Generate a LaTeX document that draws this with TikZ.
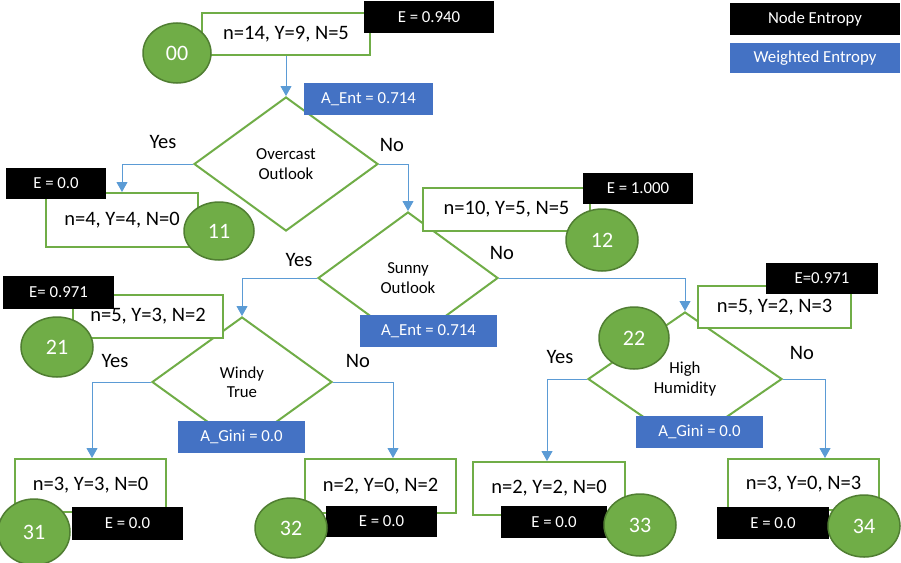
\documentclass[tikz,border=0pt]{standalone}
\usepackage{fontspec}
\setmainfont{Carlito}
\usetikzlibrary{shapes.geometric,arrows.meta}
\definecolor{leafgreen}{HTML}{70AD47}
\definecolor{leafedge}{HTML}{507E32}
\definecolor{wblue}{HTML}{4472C4}
\definecolor{linkblue}{HTML}{5B9BD5}
\newcommand{\bigtxt}{\fontsize{20.5}{24}\selectfont}
\newcommand{\midtxt}{\fontsize{16.8}{19.5}\selectfont}
\newcommand{\idtxt}{\fontsize{22}{26}\selectfont}
\tikzset{
  countbox/.style={draw=leafgreen, line width=2pt, fill=white, inner sep=0pt,
    minimum width=#1, font=\bigtxt},
  entbox/.style={fill=black, text=white, inner sep=0pt, font=\midtxt},
  wbox/.style={fill=wblue, text=white, inner sep=0pt, font=\midtxt},
  leaf/.style={ellipse, fill=leafgreen, draw=leafedge, line width=1.5pt,
    text=white, inner sep=0pt, font=\idtxt},
  decision/.style={diamond, draw=leafgreen, line width=2pt, fill=white,
    inner sep=0pt, font=\midtxt, align=center},
  answer/.style={font=\bigtxt, inner sep=0pt},
  link/.style={draw=linkblue, line width=1pt,
    -{Triangle[width=11pt,length=10pt]}}
}
\begin{document}
\begin{tikzpicture}[x=1pt, y=-1pt]
\useasboundingbox (0,0) rectangle (901,562);

% decision diamonds
\node[decision, minimum width=184pt, minimum height=134pt] (d1) at (286,164) {Overcast\\Outlook};
\node[decision, minimum width=180pt, minimum height=132pt] (d2) at (408,278) {Sunny\\Outlook};
\node[decision, minimum width=180pt, minimum height=130pt] (d3) at (242,382) {Windy\\True};
\node[decision, minimum width=194pt, minimum height=134pt] (d4) at (685,379) {High\\Humidity};

% sample count boxes
\node[countbox=168pt, minimum height=42pt] (b00) at (286,34) {n=14, Y=9, N=5};
\node[countbox=152pt, minimum height=54pt] (b11) at (122,220) {n=4, Y=4, N=0};
\node[countbox=167pt, minimum height=43pt] (b12) at (506.5,209.5) {n=10, Y=5, N=5};
\node[countbox=150pt, minimum height=43pt] (b21) at (148,316.5) {n=5, Y=3, N=2};
\node[countbox=153pt, minimum height=42pt] (b22) at (774.5,307) {n=5, Y=2, N=3};
\node[countbox=151pt, minimum height=53pt] (b31) at (90.5,485.5) {n=3, Y=3, N=0};
\node[countbox=151pt, minimum height=54pt] (b32) at (380.5,486) {n=2, Y=0, N=2};
\node[countbox=152pt, minimum height=53pt] (b33) at (549,488.5) {n=2, Y=2, N=0};
\node[countbox=151pt, minimum height=51pt] (b34) at (803.5,484.5) {n=3, Y=0, N=3};

% branch connectors
\draw[link] (b00.south) -- (d1.north);
\draw[link] (d1.west) -| (b11.north);
\draw[link] (d1.east) -| (d2.north);
\draw[link] (d2.west) -| (d3.north);
\draw[link] (d2.east) -| (d4.north);
\draw[link] (d3.west) -| ([xshift=1.5pt]b31.north);
\draw[link] (d3.east) -| ([xshift=12.5pt]b32.north);
\draw[link] (d4.west) -| ([xshift=-2pt]b33.north);
\draw[link] (d4.east) -| ([xshift=21.5pt]b34.north);

% branch answers
\node[answer] (y1) at (163,142) {Yes};
\node[answer] (n1) at (392,145) {No};
\node[answer] (y2) at (299,260) {Yes};
\node[answer] (n2) at (502,253) {No};
\node[answer] (y3) at (115,361) {Yes};
\node[answer] (n3) at (358,361) {No};
\node[answer] (y4) at (560,357) {Yes};
\node[answer] (n4) at (802,353) {No};

% weighted entropy of each split
\node[wbox, minimum width=129pt, minimum height=32pt] (w1) at (368.5,99) {A\_Ent = 0.714};
\node[wbox, minimum width=137pt, minimum height=32pt] (w2) at (428.5,331) {A\_Ent = 0.714};
\node[wbox, minimum width=127pt, minimum height=32pt] (w3) at (241.5,437) {A\_Gini = 0.0};
\node[wbox, minimum width=127pt, minimum height=32pt] (w4) at (699.5,432) {A\_Gini = 0.0};

% node entropies
\node[entbox, minimum width=130pt, minimum height=32pt] (e00) at (429,17) {E = 0.940};
\node[entbox, minimum width=100pt, minimum height=31pt] (e11) at (56,183.5) {E = 0.0};
\node[entbox, minimum width=110pt, minimum height=31pt] (e12) at (638,188.5) {E = 1.000};
\node[entbox, minimum width=111pt, minimum height=33pt] (e21) at (58.5,292.5) {E= 0.971};
\node[entbox, minimum width=112pt, minimum height=31pt] (e22) at (822,278.5) {E=0.971};
\node[entbox, minimum width=111pt, minimum height=33pt] (e31) at (127.5,523.5) {E = 0.0};
\node[entbox, minimum width=111pt, minimum height=31pt] (e32) at (381.5,521.5) {E = 0.0};
\node[entbox, minimum width=106pt, minimum height=32pt] (e33) at (554,522) {E = 0.0};
\node[entbox, minimum width=112pt, minimum height=32pt] (e34) at (773,523) {E = 0.0};

% node identifiers
\node[leaf, minimum width=68pt, minimum height=60pt] (c00) at (177,53) {00};
\node[leaf, minimum width=70pt, minimum height=58pt] (c11) at (219,231) {11};
\node[leaf, minimum width=72pt, minimum height=62pt] (c12) at (602,240) {12};
\node[leaf, minimum width=72pt, minimum height=60pt] (c21) at (57,347) {21};
\node[leaf, minimum width=70pt, minimum height=62pt] (c22) at (634,338) {22};
\node[leaf, minimum width=72pt, minimum height=66pt] (c31) at (34,532) {31};
\node[leaf, minimum width=72pt, minimum height=60pt] (c32) at (291,528) {32};
\node[leaf, minimum width=72pt, minimum height=62pt] (c33) at (640,525) {33};
\node[leaf, minimum width=72pt, minimum height=62pt] (c34) at (864,526) {34};

% legend
\node[entbox, minimum width=170pt, minimum height=32pt] (lg1) at (815,19) {Node Entropy};
\node[wbox, minimum width=170pt, minimum height=30pt] (lg2) at (815,58) {Weighted Entropy};
\end{tikzpicture}
\end{document}
